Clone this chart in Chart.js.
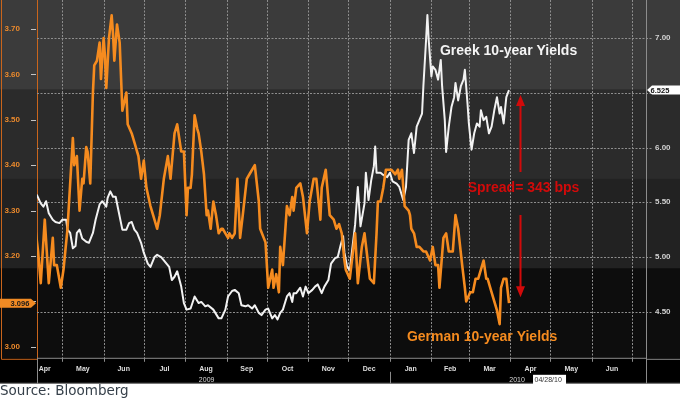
<!DOCTYPE html>
<html>
<head>
<meta charset="utf-8">
<title>German vs Greek 10-year Yields</title>
<script src="https://cdn.jsdelivr.net/npm/chart.js@4.4.1/dist/chart.umd.min.js"></script>
<style>
html,body{margin:0;padding:0;background:#ffffff;overflow:hidden;}
canvas{display:block;}
</style>
</head>
<body>
<canvas id="chart" width="680" height="400"></canvas>
<script>
// x values are days counted from 1 April 2009 (day 0)
const START_DATE = '2009-04-01';

const germanDay = [
  10,12,14,17,20,23,24,26,29,31,
  34,38,39,41,43,45,46,48,49,51,
  53,54,56,58,59,61,62,63,65,67,
  68,69,71,73,75,78,79,82,84,87,
  89,91,93,96,98,101,103,106,109,111,
  114,116,119,121,123,124,126,127,129,131,
  132,134,136,138,139,141,143,145,147,149,
  150,152,154,155,157,159,161,163,165,168,
  170,174,177,178,182,184,187,188,190,192,
  193,195,198,200,202,203,205,208,210,213,
  215,218,220,223,224,227,230,233,235,237,
  239,241,242,245,249,251,254,256,258,260,
  263,265,266,268,270,272,274,276,279,281,
  282,284,285,286,289,290,291,293,295,297,
  300,302,305,307,309,311,312,315,317,319,
  320,322,324,326,329,331,332,335,337,339,
  341,344,345,347,348,350,352,355,357,358,
  360,362,364
];
const germanYield = [
  3.26,3.21,3.14,3.28,3.14,3.24,3.18,3.18,3.13,3.17,
  3.26,3.46,3.40,3.42,3.30,3.37,3.36,3.44,3.43,3.36,
  3.56,3.62,3.63,3.67,3.59,3.68,3.64,3.57,3.68,3.73,
  3.69,3.63,3.71,3.67,3.52,3.56,3.49,3.47,3.45,3.42,
  3.37,3.41,3.35,3.31,3.29,3.26,3.29,3.37,3.42,3.37,
  3.47,3.49,3.43,3.43,3.29,3.35,3.35,3.38,3.51,3.48,
  3.47,3.43,3.38,3.29,3.30,3.26,3.32,3.29,3.25,3.26,
  3.26,3.25,3.24,3.25,3.24,3.25,3.37,3.24,3.29,3.37,
  3.38,3.40,3.32,3.26,3.23,3.13,3.17,3.13,3.16,3.12,
  3.22,3.18,3.31,3.29,3.33,3.30,3.35,3.36,3.33,3.25,
  3.32,3.37,3.37,3.28,3.35,3.39,3.29,3.28,3.26,3.27,
  3.25,3.19,3.17,3.15,3.25,3.14,3.22,3.25,3.20,3.15,
  3.14,3.25,3.32,3.32,3.35,3.39,3.39,3.39,3.38,3.39,
  3.37,3.39,3.35,3.31,3.30,3.29,3.26,3.25,3.22,3.22,
  3.21,3.21,3.19,3.22,3.18,3.18,3.13,3.24,3.25,3.21,
  3.21,3.21,3.29,3.26,3.18,3.13,3.10,3.12,3.12,3.15,
  3.15,3.18,3.19,3.15,3.15,3.13,3.11,3.08,3.05,3.13,
  3.15,3.15,3.096
];

const greekDay = [
  11,14,16,18,20,23,25,28,30,33,
  34,36,38,40,41,43,45,48,50,53,
  55,58,60,63,64,66,68,70,72,75,
  78,80,82,84,86,89,91,94,96,99,
  101,104,106,108,110,112,114,116,119,121,
  123,126,129,132,134,137,139,143,147,149,
  152,154,157,159,162,164,167,169,172,174,
  177,179,182,184,187,189,191,193,195,198,
  200,202,203,205,208,210,212,214,217,219,
  221,224,226,229,231,234,236,238,240,241,
  243,245,249,251,253,256,257,259,261,263,
  264,265,268,270,273,275,277,280,282,285,
  287,289,291,293,295,297,299,300,302,303,
  304,306,307,309,311,313,314,316,317,319,
  321,323,324,326,328,330,331,333,334,336,
  338,340,342,343,345,347,349,351,353,355,
  357,358,360,362,364
];
const greekYield = [
  5.57,5.49,5.46,5.51,5.40,5.34,5.32,5.31,5.34,5.34,
  5.25,5.22,5.08,5.10,5.22,5.25,5.17,5.14,5.13,5.22,
  5.34,5.48,5.51,5.46,5.54,5.60,5.55,5.55,5.43,5.25,
  5.25,5.31,5.32,5.25,5.22,5.13,5.04,4.94,4.91,5.00,
  5.02,5.00,4.97,4.94,4.91,4.79,4.82,4.87,4.73,4.58,
  4.52,4.53,4.64,4.58,4.59,4.55,4.56,4.52,4.44,4.44,
  4.52,4.64,4.69,4.70,4.67,4.56,4.55,4.56,4.53,4.56,
  4.49,4.47,4.52,4.53,4.44,4.47,4.43,4.49,4.52,4.64,
  4.67,4.59,4.67,4.67,4.72,4.64,4.73,4.67,4.70,4.73,
  4.75,4.67,4.73,4.79,4.94,4.99,5.00,5.10,5.19,5.04,
  4.91,4.88,5.30,5.64,5.28,5.49,5.77,5.52,5.70,5.83,
  6.01,5.77,5.77,5.75,5.73,5.77,5.69,5.67,5.64,5.52,
  5.64,6.07,6.13,5.95,6.19,6.25,6.31,6.56,6.98,7.21,
  6.98,6.65,6.74,6.71,6.62,6.80,6.56,6.25,5.96,6.19,
  6.37,6.46,6.59,6.43,6.56,6.62,6.71,6.40,6.22,5.98,
  6.13,6.22,6.19,6.34,6.25,6.28,6.13,6.19,6.34,6.46,
  6.31,6.37,6.22,6.46,6.525
];

const monthNames = ['Apr','May','Jun','Jul','Aug','Sep','Oct','Nov','Dec','Jan','Feb','Mar','Apr','May','Jun'];
const monthLabelDay = [17,45.5,76,106.5,137.5,168,198.5,229,259.5,290.5,320,349.5,380,410.5,441];
const monthStartDay = [30,61,91,122,153,183,214,244,275,306,334,365,395,426,456];
const yearLabels = ['2009','2010'];
const yearLabelDay = [138,370];
const yearBreakDay = 275;
const germanTicks = [3.0,3.1,3.2,3.3,3.4,3.5,3.6,3.7];
const greekTicks = [4.5,5.0,5.5,6.0,6.5,7.0];
const lastGerman = 3.096;
const lastGreek = 6.525;
const dateStamp = '04/28/10';
const greekTitle = 'Greek 10-year Yields';
const germanTitle = 'German 10-year Yields';
const spreadTitle = 'Spread= 343 bps';
const sourceText = 'Source: Bloomberg';

const X_MIN = 11.2, X_MAX = 466.4;
const GER_MIN = 2.9758, GER_MAX = 3.7638;
const GRK_MIN = 4.080, GRK_MAX = 7.347;

// annotation anchors in data units: [day, yield]
const greekTitleAt = [312.4, 6.88];   // greek scale
const germanTitleAt = [287.7, 3.022]; // german scale
const spreadAt = [372, 5.63];         // greek scale

const ORANGE = '#f58b1f';
const RED = '#d20a0a';
const GRID = '#8e8e8e';

const decor = {
  id: 'decor',
  beforeDraw(chart) {
    const {ctx, chartArea: a, width, height} = chart;
    const rowBot = chart.scales.x.bottom;
    ctx.save();
    ctx.fillStyle = '#ffffff';
    ctx.fillRect(0, 0, width, height);
    ctx.fillStyle = '#000000';
    ctx.fillRect(0, 0, width, rowBot);
    const bands = ['#3b3b3b', '#2b2b2b', '#222222', '#0d0d0d'];
    const h = (a.bottom - a.top) / bands.length;
    bands.forEach((c, i) => {
      ctx.fillStyle = c;
      ctx.fillRect(0, a.top + i * h, width, h + 0.5);
    });
    ctx.restore();
  },
  beforeDatasetsDraw(chart) {
    const {ctx, chartArea: a} = chart;
    const sxg = chart.scales.xg, sy2 = chart.scales.y2;
    ctx.save();
    ctx.strokeStyle = GRID;
    ctx.lineWidth = 1;
    ctx.setLineDash([2, 1.5]);
    ctx.beginPath();
    sy2.ticks.forEach(t => {
      const y = Math.round(sy2.getPixelForValue(t.value)) + 0.5;
      ctx.moveTo(a.left, y); ctx.lineTo(a.right + 7, y);
    });
    sxg.ticks.forEach(t => {
      const x = Math.round(sxg.getPixelForValue(t.value)) + 0.5;
      ctx.moveTo(x, a.top); ctx.lineTo(x, a.bottom);
    });
    ctx.stroke();
    ctx.restore();
  },
  afterDatasetsDraw(chart) {
    const {ctx} = chart;
    const sx = chart.scales.x, sy = chart.scales.y, sy2 = chart.scales.y2;
    ctx.save();
    ctx.textBaseline = 'middle';
    ctx.textAlign = 'left';
    ctx.font = 'bold 14px "Liberation Sans", Arial, sans-serif';
    ctx.fillStyle = '#f4f4f4';
    ctx.fillText(greekTitle, sx.getPixelForValue(greekTitleAt[0]), sy2.getPixelForValue(greekTitleAt[1]));
    ctx.fillStyle = ORANGE;
    ctx.fillText(germanTitle, sx.getPixelForValue(germanTitleAt[0]), sy.getPixelForValue(germanTitleAt[1]));
    const ax = Math.round(sx.getPixelForValue(spreadAt[0])) + 0.5;
    const ty = sy2.getPixelForValue(spreadAt[1]);
    ctx.fillStyle = RED;
    ctx.textAlign = 'center';
    ctx.fillText(spreadTitle, ax + 3, ty);
    const upTip = sy2.getPixelForValue(lastGreek) + 5;
    const upTail = ty - 16;
    const dnTail = ty + 27;
    const dnTip = sy.getPixelForValue(lastGerman) - 6;
    ctx.strokeStyle = RED;
    ctx.lineWidth = 2;
    ctx.beginPath();
    ctx.moveTo(ax, upTail); ctx.lineTo(ax, upTip + 8);
    ctx.moveTo(ax, dnTail); ctx.lineTo(ax, dnTip - 8);
    ctx.stroke();
    ctx.beginPath();
    ctx.moveTo(ax, upTip); ctx.lineTo(ax - 4.5, upTip + 11); ctx.lineTo(ax + 4.5, upTip + 11); ctx.closePath();
    ctx.moveTo(ax, dnTip); ctx.lineTo(ax - 4.5, dnTip - 11); ctx.lineTo(ax + 4.5, dnTip - 11); ctx.closePath();
    ctx.fill();
    ctx.restore();
  },
  afterDraw(chart) {
    const {ctx, chartArea: a, width} = chart;
    const sx = chart.scales.x, sxg = chart.scales.xg, sy = chart.scales.y, sy2 = chart.scales.y2;
    const rowTop = a.bottom, rowBot = sx.bottom;
    ctx.save();
    // left axis orange frame
    ctx.strokeStyle = '#c9651c';
    ctx.lineWidth = 1;
    ctx.beginPath();
    ctx.moveTo(1.5, 0); ctx.lineTo(1.5, rowTop + 1.5); ctx.lineTo(sy.right, rowTop + 1.5);
    ctx.stroke();
    // left axis tick marks
    ctx.strokeStyle = '#c4c4c4';
    ctx.beginPath();
    sy.ticks.forEach(t => {
      const y = Math.round(sy.getPixelForValue(t.value)) + 0.5;
      ctx.moveTo(sy.right - 6, y); ctx.lineTo(sy.right - 1, y);
    });
    ctx.stroke();
    // axis row frame and month tick marks
    ctx.strokeStyle = '#8a8a8a';
    ctx.beginPath();
    ctx.moveTo(a.left, rowTop + 0.5); ctx.lineTo(a.right, rowTop + 0.5);
    ctx.moveTo(0, rowBot - 0.5); ctx.lineTo(width, rowBot - 0.5);
    ctx.moveTo(a.left + 0.5, rowTop); ctx.lineTo(a.left + 0.5, rowBot);
    ctx.moveTo(a.right + 0.5, rowTop); ctx.lineTo(a.right + 0.5, rowBot);
    ctx.moveTo(a.right, rowTop + 1.5); ctx.lineTo(width, rowTop + 1.5);
    const xb = Math.round(sx.getPixelForValue(yearBreakDay)) + 0.5;
    ctx.moveTo(xb, rowTop + 14); ctx.lineTo(xb, rowBot);
    sxg.ticks.forEach(t => {
      const x = Math.round(sxg.getPixelForValue(t.value)) + 0.5;
      ctx.moveTo(x, rowTop); ctx.lineTo(x, rowTop + 4);
    });
    ctx.stroke();
    // year labels
    ctx.fillStyle = '#d8d8d8';
    ctx.font = '7px "Liberation Sans", Arial, sans-serif';
    ctx.textAlign = 'center';
    ctx.textBaseline = 'middle';
    const yy = rowTop + 22;
    yearLabels.forEach((t, i) => ctx.fillText(t, sx.getPixelForValue(yearLabelDay[i]), yy));
    // date stamp
    const dsx = sx.getPixelForValue(yearLabelDay[1]) + 16;
    ctx.fillStyle = '#ffffff';
    ctx.fillRect(dsx, yy - 5, 33, 10);
    ctx.fillStyle = '#333333';
    ctx.textAlign = 'left';
    ctx.fillText(dateStamp, dsx + 1.5, yy);
    // last value boxes
    const gy = sy.getPixelForValue(lastGerman);
    ctx.fillStyle = '#f08a24';
    ctx.beginPath();
    ctx.moveTo(0, gy - 4.5); ctx.lineTo(31, gy - 4.5); ctx.lineTo(36, gy); ctx.lineTo(31, gy + 4.5); ctx.lineTo(0, gy + 4.5);
    ctx.closePath(); ctx.fill();
    ctx.fillStyle = '#1a1a1a';
    ctx.font = 'bold 7.5px "Liberation Sans", Arial, sans-serif';
    ctx.textAlign = 'center';
    ctx.fillText(lastGerman.toFixed(3), 20, gy + 0.5);
    const ky = sy2.getPixelForValue(lastGreek);
    ctx.fillStyle = '#ffffff';
    ctx.beginPath();
    ctx.moveTo(a.right + 1, ky); ctx.lineTo(a.right + 6, ky - 4.5); ctx.lineTo(width, ky - 4.5); ctx.lineTo(width, ky + 4.5); ctx.lineTo(a.right + 6, ky + 4.5);
    ctx.closePath(); ctx.fill();
    ctx.fillStyle = '#111111';
    ctx.fillText(lastGreek.toFixed(3), a.right + 14, ky + 0.5);
    ctx.restore();
  }
};

const fontAxis = {family: '"Liberation Sans", Arial, sans-serif', size: 8, weight: 'bold'};

new Chart(document.getElementById('chart'), {
  type: 'line',
  data: {
    datasets: [
      {
        label: 'German 10-year Yields',
        data: germanDay.map((d, i) => ({x: d, y: germanYield[i]})),
        yAxisID: 'y',
        borderColor: ORANGE,
        borderWidth: 2.6,
        pointRadius: 0,
        tension: 0,
        borderJoinStyle: 'round'
      },
      {
        label: 'Greek 10-year Yields',
        data: greekDay.map((d, i) => ({x: d, y: greekYield[i]})),
        yAxisID: 'y2',
        borderColor: '#f2f2f2',
        borderWidth: 2,
        pointRadius: 0,
        tension: 0,
        borderJoinStyle: 'round'
      }
    ]
  },
  options: {
    responsive: false,
    animation: false,
    devicePixelRatio: 1,
    layout: {padding: 0},
    plugins: {
      legend: {display: false},
      tooltip: {enabled: false},
      title: {
        display: true,
        position: 'bottom',
        align: 'start',
        text: sourceText,
        color: '#36404a',
        font: {family: '"DejaVu Sans", Verdana, sans-serif', size: 13.5, weight: 'normal'},
        padding: {top: 0, bottom: 0}
      }
    },
    scales: {
      xg: {
        type: 'linear',
        position: 'bottom',
        weight: 0,
        min: X_MIN, max: X_MAX,
        afterBuildTicks: s => { s.ticks = monthStartDay.filter(d => d > X_MIN && d < X_MAX).map(v => ({value: v})); },
        ticks: {display: false},
        grid: {display: false, drawTicks: false},
        border: {display: false},
        afterFit: s => { s.height = 0; s.paddingLeft = 0; s.paddingRight = 0; }
      },
      x: {
        type: 'linear',
        position: 'bottom',
        weight: 1,
        min: X_MIN, max: X_MAX,
        afterBuildTicks: s => { s.ticks = monthLabelDay.map(v => ({value: v})); },
        ticks: {
          autoSkip: false, maxRotation: 0, minRotation: 0,
          color: '#dedede',
          font: {family: '"Liberation Sans", Arial, sans-serif', size: 7, weight: 'bold'},
          padding: 7,
          callback: (v, i) => monthNames[i]
        },
        grid: {display: false, drawTicks: false},
        border: {display: false},
        afterFit: s => { s.height = 26; s.paddingLeft = 0; s.paddingRight = 0; }
      },
      y: {
        type: 'linear',
        position: 'left',
        min: GER_MIN, max: GER_MAX,
        afterBuildTicks: s => { s.ticks = germanTicks.map(v => ({value: v})); },
        ticks: {
          color: '#ec8a2c',
          font: fontAxis,
          padding: 17,
          crossAlign: 'near',
          callback: v => Math.abs(v - 3.1) < 1e-6 ? '' : v.toFixed(2)
        },
        grid: {display: false, drawTicks: false},
        border: {display: true, color: '#c9651c'},
        afterFit: s => { s.width = 37; s.paddingTop = 0; s.paddingBottom = 0; }
      },
      y2: {
        type: 'linear',
        position: 'right',
        min: GRK_MIN, max: GRK_MAX,
        afterBuildTicks: s => { s.ticks = greekTicks.map(v => ({value: v})); },
        ticks: {
          color: '#d2d2d2',
          font: fontAxis,
          padding: 9,
          callback: v => Math.abs(v - 6.5) < 1e-6 ? '' : v.toFixed(2)
        },
        grid: {display: false, drawTicks: false},
        border: {display: true, color: '#8c8c8c'},
        afterFit: s => { s.width = 34; s.paddingTop = 0; s.paddingBottom = 0; }
      }
    }
  },
  plugins: [decor]
});
</script>
</body>
</html>
